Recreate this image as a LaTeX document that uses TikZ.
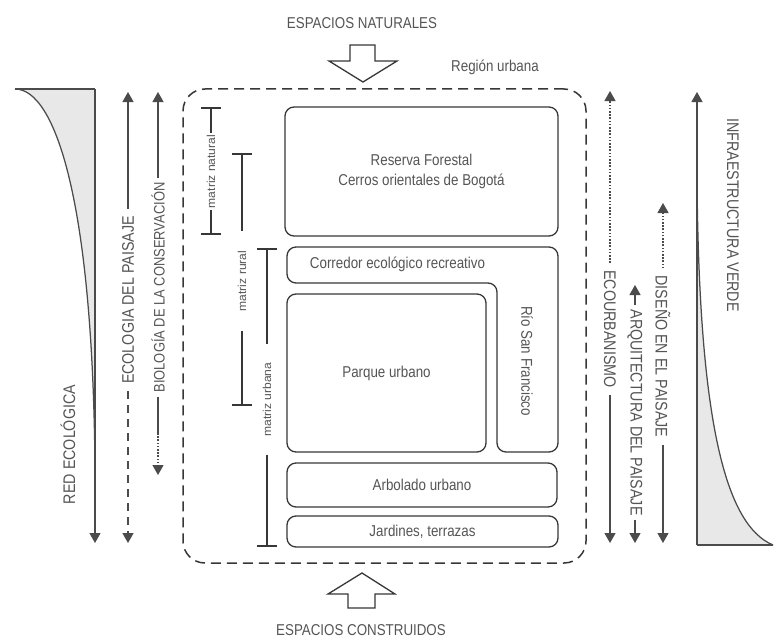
\documentclass[tikz,border=0pt]{standalone}
\usepackage{fontspec}
\setmainfont{Liberation Sans}[FakeStretch=0.85]
\newfontfamily\matrizfont{Liberation Sans}[FakeStretch=1.05]
\definecolor{LineGray}{RGB}{55,55,55}
\definecolor{TextGray}{RGB}{85,85,85}
\definecolor{GuideGray}{RGB}{75,75,75}
\definecolor{TailGray}{RGB}{232,232,232}
\usetikzlibrary{positioning, arrows.meta}

\begin{document}
\begin{tikzpicture}[x=1pt, y=-1pt,
    areabox/.style={draw=LineGray, line width=1.3pt, rounded corners=9pt, inner sep=0pt, text=TextGray, align=center, font=\fontsize{15.7}{20}\selectfont},
    areatext/.style={inner sep=0pt, text=TextGray, font=\fontsize{15.7}{20}\selectfont},
    vlabel/.style={inner xsep=7pt, inner ysep=0pt, text=TextGray, font=\fontsize{16.8}{18}\selectfont},
    mlabel/.style={inner xsep=2pt, inner ysep=0pt, rotate=90, text=TextGray, font=\matrizfont\fontsize{11.5}{12}\selectfont},
    guide/.style={draw=GuideGray, line width=1.25pt},
    headtip/.style={-{Triangle[length=10pt, width=11pt]}},
    dotline/.style={dash pattern=on 1.6pt off 1.6pt},
    mbar/.style={draw=LineGray, line width=2pt},
    hollow/.style={draw=LineGray, line width=1.3pt, fill=white, line join=miter}]
  \useasboundingbox (0,0) rectangle (774,642);

  % inflows
  \node[areatext] (naturales) at (362,23) {ESPACIOS NATURALES};
  \draw[hollow] (350,45) -- (375,45) -- (375,61) -- (397,61) -- (363,82) -- (329,61) -- (350,61) -- cycle;
  \node[areatext] (construidos) at (361,630) {ESPACIOS CONSTRUIDOS};
  \draw[hollow] (348,608) -- (375,608) -- (375,594) -- (395,594) -- (362,573) -- (328,594) -- (348,594) -- cycle;

  % urban region
  \node[draw=LineGray, line width=1.5pt, dash pattern=on 10pt off 6pt, rounded corners=22pt, minimum width=403pt, minimum height=474pt] (region) at (384.5,326) {};
  \node[areatext] (regionlabel) at (495,67) {Región urbana};

  \node[areabox, minimum width=273pt, minimum height=129pt] (reserva) at (421.5,171.5) {Reserva Forestal\\Cerros orientales de Bogotá};
  \draw[draw=LineGray, line width=1.3pt, rounded corners=9pt] (287,247) -- (558,247) -- (558,452) -- (497,452) -- (497,283) -- (287,283) -- cycle;
  \node[areatext] (corredor) at (397.5,264) {Corredor ecológico recreativo};
  \node[areatext, rotate=-90] (rio) at (527,361) {Río San Francisco};
  \node[areabox, minimum width=199pt, minimum height=158pt] (parque) at (386.5,373) {Parque urbano};
  \node[areabox, minimum width=270pt, minimum height=44pt] (arbolado) at (422,485) {Arbolado urbano};
  \node[areabox, minimum width=271pt, minimum height=31pt] (jardines) at (422.5,531.5) {Jardines, terrazas};

  % matrix bars
  \node[mlabel] (natural) at (211,171.5) {matriz natural};
  \coordinate (naturalTop) at (211,107);
  \coordinate (naturalBot) at (211,235);
  \draw[mbar, {Bar[width=20pt]}-] (naturalTop) -- (natural.east);
  \draw[mbar, -{Bar[width=20pt]}] (natural.west) -- (naturalBot);

  \node[mlabel, inner xsep=20pt] (rural) at (242,281) {matriz rural};
  \coordinate (ruralTop) at (242,153);
  \coordinate (ruralBot) at (242,406);
  \draw[mbar, {Bar[width=20pt]}-] (ruralTop) -- (rural.east);
  \draw[mbar, -{Bar[width=20pt]}] (rural.west) -- (ruralBot);

  \node[mlabel, inner xsep=18pt] (urbana) at (267,399.5) {matriz urbana};
  \coordinate (urbanaTop) at (267,248);
  \coordinate (urbanaBot) at (267,547);
  \draw[mbar, {Bar[width=20pt]}-] (urbanaTop) -- (urbana.east);
  \draw[mbar, -{Bar[width=20pt]}] (urbana.west) -- (urbanaBot);

  % left side
  \fill[TailGray] (15,89) .. controls (55,89) and (93,200) .. (95,470) -- (95,89) -- cycle;
  \draw[guide] (15,89) .. controls (55,89) and (93,200) .. (95,470);
  \coordinate (redTop) at (95,89);
  \coordinate (redBot) at (95,543);
  \coordinate (redEdge) at (15,89);
  \draw[guide] (redEdge) -- (redTop);
  \draw[guide, headtip] (redTop) -- (redBot);
  \node[vlabel, rotate=90] (red) at (68,444.5) {RED ECOLÓGICA};

  \node[vlabel, rotate=90] (ecologia) at (128,300) {ECOLOGIA DEL PAISAJE};
  \coordinate (ecologiaTop) at (128,92);
  \coordinate (ecologiaBot) at (128,543);
  \draw[guide, headtip] (ecologia.east) -- (ecologiaTop);
  \draw[guide, headtip, dash pattern=on 8pt off 6pt] (ecologia.west) -- (ecologiaBot);

  \node[vlabel, rotate=90, font=\fontsize{15.2}{16}\selectfont, inner xsep=4pt] (biologia) at (158,287.5) {BIOLOGÍA DE LA CONSERVACIÓN};
  \coordinate (biologiaTop) at (158,92);
  \coordinate (biologiaMid) at (158,433);
  \coordinate (biologiaBot) at (158,475);
  \draw[guide, headtip] (biologia.east) -- (biologiaTop);
  \draw[guide] (biologia.west) -- (biologiaMid);
  \draw[guide, headtip, dotline] (biologiaMid) -- (biologiaBot);

  % right side
  \node[vlabel, rotate=-90] (ecourbanismo) at (610,329) {ECOURBANISMO};
  \coordinate (ecourbanismoTop) at (610,91);
  \coordinate (ecourbanismoBot) at (610,543);
  \draw[guide, headtip, dotline] (ecourbanismo.west) -- (ecourbanismoTop);
  \draw[guide, headtip] (ecourbanismo.east) -- (ecourbanismoBot);

  \node[vlabel, rotate=-90, inner xsep=4pt] (arquitectura) at (635,412.5) {ARQUITECTURA DEL PAISAJE};
  \coordinate (arquitecturaTop) at (635,285);
  \coordinate (arquitecturaBot) at (635,543);
  \draw[guide, headtip] (arquitectura.west) -- (arquitecturaTop);
  \draw[guide, headtip] (arquitectura.east) -- (arquitecturaBot);

  \node[vlabel, rotate=-90] (diseno) at (663,356.5) {DISEÑO EN EL PAISAJE};
  \coordinate (disenoTop) at (663,203);
  \coordinate (disenoBot) at (663,543);
  \draw[guide, headtip, dotline] (diseno.west) -- (disenoTop);
  \draw[guide, headtip] (diseno.east) -- (disenoBot);

  \fill[TailGray] (773,545) .. controls (725,525) and (699,420) .. (697,180) -- (697,545) -- cycle;
  \draw[guide] (773,545) .. controls (725,525) and (699,420) .. (697,180);
  \coordinate (verdeTop) at (697,92);
  \coordinate (verdeBot) at (697,545);
  \coordinate (verdeEdge) at (773,545);
  \draw[guide] (verdeEdge) -- (verdeBot);
  \draw[guide, headtip] (verdeBot) -- (verdeTop);
  \node[vlabel, rotate=-90] (verde) at (733,215) {INFRAESTRUCTURA VERDE};
\end{tikzpicture}
\end{document}
